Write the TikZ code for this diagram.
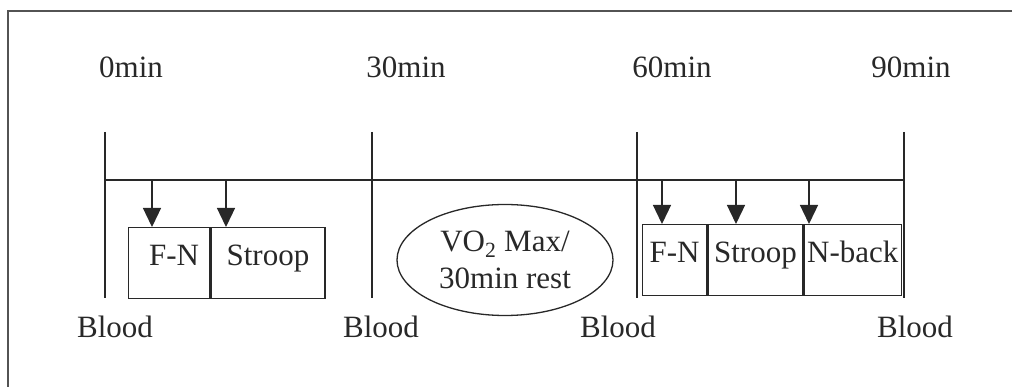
\documentclass[tikz,border=0pt]{standalone}
\usepackage{fontspec}
\setmainfont{Liberation Serif}
\usepackage{tikz}
\usetikzlibrary{arrows.meta,positioning,shapes.geometric}
\definecolor{inkgray}{RGB}{40,40,40}
\tikzset{
  labeltext/.style={font=\fontsize{31}{37}\selectfont,text=inkgray,inner sep=0pt},
  cellbox/.style={
    draw=inkgray,line width=1.3pt,minimum height=71pt,inner sep=0pt,
    text height=0.7em,text depth=0.3em,labeltext
  },
  tickline/.style={draw=inkgray,line width=1.3pt},
  taskarrow/.style={-{Triangle[length=19pt,width=18pt]},line width=1.3pt,draw=inkgray},
  restnode/.style={ellipse,draw=inkgray,line width=1.3pt,minimum width=216pt,
    minimum height=111pt,align=center,labeltext}
}
\begin{document}
\begin{tikzpicture}[x=1pt,y=-1pt]
  \useasboundingbox (0,0) rectangle (1018,387);
  % frame
  \coordinate (frameTR) at (1012,11);
  \coordinate (frameTL) at (8,11);
  \coordinate (frameBL) at (8,387);
  \draw[draw=inkgray!80,line width=1.6pt] (frameTR) -- (frameTL) -- (frameBL);
  % time labels
  \node[labeltext] (t0) at (131,67) {0min};
  \node[labeltext] (t30) at (406,67) {30min};
  \node[labeltext] (t60) at (672,67) {60min};
  \node[labeltext] (t90) at (911,67) {90min};
  % ticks and timeline
  \coordinate (top0) at (105,132);  \coordinate (bot0) at (105,298);
  \coordinate (top1) at (372,132);  \coordinate (bot1) at (372,298);
  \coordinate (top2) at (637,132);  \coordinate (bot2) at (637,298);
  \coordinate (top3) at (904,132);  \coordinate (bot3) at (904,298);
  \draw[tickline] (top0) -- (bot0);
  \draw[tickline] (top1) -- (bot1);
  \draw[tickline] (top2) -- (bot2);
  \draw[tickline] (top3) -- (bot3);
  \coordinate (line0) at (105,180);
  \coordinate (line3) at (904,180);
  \draw[tickline] (line0) -- (line3);
  % blood labels
  \node[labeltext] (b0) at (115,327) {Blood};
  \node[labeltext] (b1) at (381,327) {Blood};
  \node[labeltext] (b2) at (618,327) {Blood};
  \node[labeltext] (b3) at (915,327) {Blood};
  % first test block
  \node[cellbox,minimum width=81pt,anchor=north west] (fnA) at (128,227) {\hspace*{10pt}F-N};
  \node[cellbox,minimum width=114pt,right=0pt of fnA] (stroopA) {Stroop};
  % rest
  \node[restnode] (rest) at (505,260) {VO\textsubscript{2} Max/\\30min rest};
  % second test block
  \node[cellbox,minimum width=64pt,anchor=north west] (fnB) at (642,224) {F-N};
  \node[cellbox,minimum width=95pt,right=0pt of fnB] (stroopB) {Stroop};
  \node[cellbox,minimum width=97pt,right=0pt of stroopB] (nbackB) {N-back};
  % arrows
  \coordinate (a1) at (152,180);
  \coordinate (a2) at (226,180);
  \coordinate (a3) at (662,180);
  \coordinate (a4) at (736,180);
  \coordinate (a5) at (809,180);
  \draw[taskarrow] (a1) -- (a1 |- fnA.north);
  \draw[taskarrow] (a2) -- (a2 |- stroopA.north);
  \draw[taskarrow] (a3) -- (a3 |- fnB.north);
  \draw[taskarrow] (a4) -- (a4 |- stroopB.north);
  \draw[taskarrow] (a5) -- (a5 |- nbackB.north);
\end{tikzpicture}
\end{document}
